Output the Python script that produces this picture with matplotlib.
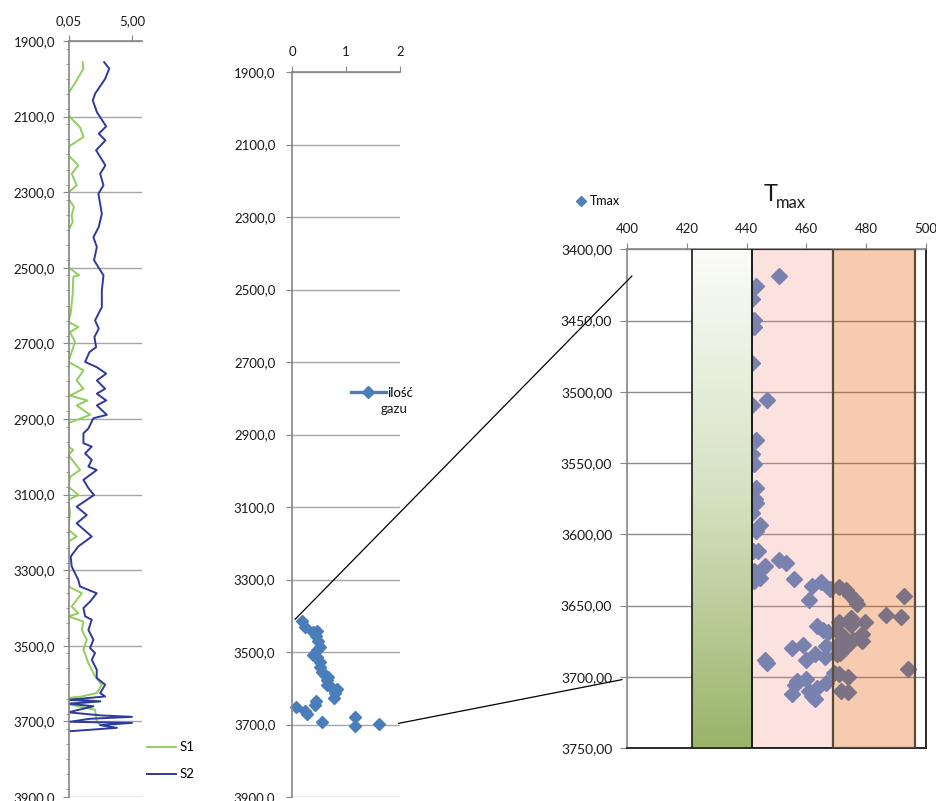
import matplotlib
matplotlib.use('Agg')
import matplotlib.pyplot as plt
import numpy as np
from matplotlib.ticker import FuncFormatter, MultipleLocator
from matplotlib.patches import Rectangle, ConnectionPatch
from matplotlib.lines import Line2D
from matplotlib.colors import LinearSegmentedColormap

plt.rcParams['font.family'] = ['Lato', 'DejaVu Sans']

# ---------------- data ----------------
depth_s2 = [1956, 1973, 2000, 2039, 2057, 2088, 2126, 2145, 2163, 2189,
            2229, 2251, 2282, 2304, 2357, 2392, 2419, 2445, 2480, 2520,
            2560, 2604, 2639, 2661, 2683, 2710, 2723, 2749, 2763, 2780,
            2798, 2820, 2833, 2851, 2864, 2889, 2898, 2925, 2938, 2964,
            2973, 2991, 3008, 3026, 3035, 3061, 3083, 3101, 3132, 3154,
            3176, 3211, 3237, 3264, 3290, 3326, 3343, 3361, 3383, 3400,
            3422, 3431, 3458, 3484, 3506, 3519, 3537, 3563, 3585, 3603,
            3625, 3634, 3643, 3647, 3653, 3660, 3676, 3684, 3688, 3693,
            3701, 3704, 3710, 3717, 3726]
s2 = [2.80, 3.20, 2.88, 2.10, 1.91, 2.23, 2.96, 2.38, 2.90, 2.17,
      2.90, 2.49, 2.75, 2.35, 2.62, 2.38, 1.96, 2.23, 2.01, 2.75,
      2.62, 2.62, 2.09, 2.38, 2.04, 2.17, 1.65, 1.31, 2.23, 2.96,
      2.23, 2.88, 2.23, 2.96, 2.23, 3.01, 1.96, 1.57, 1.18, 1.18,
      1.83, 1.31, 1.83, 1.57, 2.22, 1.18, 1.57, 2.01, 0.65, 1.44,
      0.65, 1.83, 0.78, 0.18, 0.26, 0.78, 0.91, 2.22, 1.70, 1.18,
      1.31, 1.83, 1.57, 1.96, 1.70, 2.09, 1.83, 2.22, 2.22, 2.88,
      2.49, 2.88, 0.00, 2.49, 0.00, 1.96, 0.00, 2.49, 4.98, 1.70,
      0.13, 4.98, 2.49, 3.80, 0.13]

depth_s1 = [1956, 1973, 2004, 2039, 2097, 2128, 2154, 2180, 2202, 2229,
            2251, 2282, 2301, 2317, 2339, 2361, 2379, 2401, 2498, 2520,
            2524, 2569, 2621, 2643, 2657, 2670, 2696, 2749, 2771, 2798,
            2820, 2838, 2851, 2864, 2889, 2911, 2938, 2973, 2982, 2995,
            3035, 3053, 3079, 3101, 3114, 3149, 3193, 3211, 3224, 3343,
            3361, 3396, 3414, 3422, 3436, 3458, 3484, 3510, 3546, 3581,
            3603, 3625, 3634, 3638, 3647, 3655, 3669, 3700, 3709]
s1 = [1.12, 1.18, 0.65, 0.00, 0.00, 0.91, 1.18, 0.00, 0.00, 0.78,
      0.26, 0.65, 0.00, 0.00, 0.44, 0.26, 0.34, 0.00, 0.00, 0.84,
      0.39, 0.34, 0.18, 0.00, 0.78, 0.13, 0.52, 0.00, 1.18, 0.65,
      1.18, 0.13, 1.49, 0.65, 1.70, 0.00, 0.00, 0.00, 0.39, 0.00,
      0.91, 0.13, 0.00, 0.78, 0.00, 0.13, 0.00, 0.65, 0.00, 0.00,
      1.05, 0.26, 0.78, 0.00, 1.18, 1.05, 1.44, 1.18, 1.57, 2.09,
      2.62, 2.22, 1.05, 0.00, 2.49, 0.00, 2.09, 2.22, 2.49]

gas_depth = [3414, 3430, 3441, 3444, 3457, 3470, 3486, 3495, 3509, 3515,
             3527, 3541, 3555, 3564, 3568, 3577, 3591, 3596, 3603, 3614,
             3628, 3634, 3646, 3653, 3662, 3671, 3679, 3692, 3698, 3703]
gas = [0.18, 0.24, 0.47, 0.39, 0.44, 0.49, 0.51, 0.47, 0.38, 0.46,
       0.52, 0.51, 0.55, 0.61, 0.67, 0.64, 0.64, 0.73, 0.83, 0.80,
       0.78, 0.44, 0.43, 0.07, 0.24, 0.28, 1.17, 0.55, 1.62, 1.17]

tmax = [450.9, 443.0, 441.9, 442.4, 442.4, 441.9, 446.8, 441.9, 443.0, 441.9,
        442.4, 443.0, 442.7, 443.0, 441.9, 444.6, 443.0, 443.8, 442.1, 450.9,
        453.1, 446.1, 442.4, 444.6, 442.4, 455.9, 461.9, 464.8, 460.9, 467.8,
        471.0, 473.2, 474.5, 476.2, 477.0, 492.7, 486.8, 491.6, 474.8, 474.8,
        479.8, 471.0, 463.7, 465.6, 467.3, 470.1, 471.8, 478.8, 475.7, 478.8,
        472.5, 470.1, 466.7, 472.9, 471.2, 458.9, 455.0, 462.8, 466.2, 459.8,
        446.2, 446.8, 470.1, 493.9, 469.2, 471.0, 474.0, 460.0, 456.7, 456.1,
        466.7, 463.7, 460.9, 455.0, 462.0, 462.8, 471.6, 474.0]
tmax_depth = [3418.5, 3425.5, 3434.9, 3449.6, 3454.3, 3480.0, 3505.7, 3509.2, 3533.7, 3543.8,
              3550.6, 3567.6, 3575.3, 3578.0, 3585.1, 3593.3, 3598.0, 3612.0, 3611.4, 3617.9,
              3620.2, 3622.1, 3626.1, 3630.7, 3633.0, 3631.2, 3636.1, 3633.8, 3646.0, 3638.4,
              3637.0, 3639.4, 3642.4, 3646.0, 3648.7, 3643.6, 3656.7, 3658.3, 3659.0, 3663.5,
              3661.6, 3661.8, 3664.2, 3667.0, 3668.9, 3668.2, 3670.5, 3669.8, 3674.0, 3675.2,
              3674.0, 3677.5, 3678.7, 3679.8, 3683.3, 3677.5, 3679.8, 3683.8, 3686.4, 3688.0,
              3688.5, 3690.0, 3684.0, 3694.5, 3697.3, 3697.8, 3700.1, 3701.5, 3703.2, 3705.5,
              3704.4, 3707.9, 3710.2, 3712.1, 3713.3, 3715.6, 3710.2, 3711.0]

# maturity zones (Tmax ranges)
zone_immature = (421.5, 441.6)
zone_oil = (441.6, 468.9)
zone_gas = (468.9, 496.3)

s_ticks = [0.05, 5.00]
gas_ticks = [0, 1, 2]
depth_ticks = list(range(1900, 3901, 200))
tmax_ticks = list(range(400, 501, 20))
tmax_depth_ticks = list(range(3400, 3751, 50))

# ---------------- figure ----------------
W, H = 937, 801
fig = plt.figure(figsize=(W / 100, H / 100), dpi=100)


def box(x0, y0, x1, y1):
    return [x0 / W, 1 - y1 / H, (x1 - x0) / W, (y1 - y0) / H]


GRID = '#a6a6a6'
SPINE = '#868686'
TXT = '#1a1a1a'


def comma(fmt):
    return FuncFormatter(lambda v, p: fmt.format(v).replace('.', ','))


def style_axes(ax, ypad):
    for s in ['right', 'bottom']:
        ax.spines[s].set_visible(False)
    for s in ['left', 'top']:
        ax.spines[s].set_color(SPINE)
        ax.spines[s].set_linewidth(1.2)
    ax.xaxis.tick_top()
    ax.tick_params(axis='both', which='both', colors=SPINE, labelcolor=TXT,
                   labelsize=9.5, direction='out')
    ax.tick_params(axis='y', which='major', length=4, pad=ypad)
    ax.tick_params(axis='x', which='major', length=4, pad=6)
    ax.grid(axis='y', which='major', color=GRID, lw=1.0)
    ax.set_axisbelow(True)


# ----- left panel: S1/S2 -----
ax1 = fig.add_axes(box(69, 41, 141.7, 797))
l1, = ax1.plot(s1, depth_s1, color='#8fd05c', lw=1.4, label='S1')
l2, = ax1.plot(s2, depth_s2, color='#2e3a9c', lw=1.4, label='S2')
ax1.set_xlim(0.05, 5.74)
ax1.set_ylim(3900, 1900)
style_axes(ax1, 6)
ax1.set_xticks(s_ticks)
ax1.xaxis.set_major_formatter(comma('{:.2f}'))
ax1.set_yticks(depth_ticks)
ax1.yaxis.set_major_formatter(comma('{:.1f}'))
ax1.yaxis.set_minor_locator(MultipleLocator(40))
ax1.tick_params(axis='y', which='minor', length=2.5)
fig.legend(handles=[l1, l2], loc='upper left', bbox_to_anchor=(142 / W, 1 - 736 / H),
           frameon=False, fontsize=9.5, handlelength=2.2, labelspacing=1.15,
           handletextpad=0.25, borderaxespad=0)

# ----- middle panel: gas -----
ax2 = fig.add_axes(box(292, 72, 400, 797))
ax2.plot(gas, gas_depth, ls='none', marker='D', ms=6.5, color='#4a7ebb',
         mec='#4a7ebb', clip_on=False)
ax2.set_xlim(0, 2)
ax2.set_ylim(3900, 1900)
style_axes(ax2, 8)
ax2.set_xticks(gas_ticks)
ax2.set_yticks(depth_ticks)
ax2.yaxis.set_major_formatter(comma('{:.1f}'))
gas_handle = Line2D([], [], color='#4a7ebb', lw=2.4, marker='D', ms=6)
fig.legend(handles=[gas_handle], labels=['ilość'], loc='center left',
           bbox_to_anchor=(346 / W, 1 - 393 / H), frameon=False, fontsize=9.5,
           handlelength=2.6, handletextpad=0.1, borderaxespad=0)
fig.text(381 / W, 1 - 413 / H, 'gazu', fontsize=9.5, color=TXT, ha='left', va='baseline')

# ----- right panel: Tmax -----
ax3 = fig.add_axes(box(627.5, 249.3, 925.7, 748))
pts, = ax3.plot(tmax, tmax_depth, ls='none', marker='D', ms=8.5, color='#4f7fbe',
                mec='#4f7fbe', zorder=2, label='Tmax')
green = LinearSegmentedColormap.from_list('g', ['#fbfcf9', '#d5e1c1', '#9ab46a'])
ax3.imshow(np.linspace(0, 1, 256).reshape(-1, 1),
           extent=[zone_immature[0], zone_immature[1], 3750, 3400],
           cmap=green, aspect='auto', zorder=3, interpolation='bilinear')
ax3.add_patch(Rectangle((zone_immature[0], 3400), zone_immature[1] - zone_immature[0], 350,
                        fill=False, ec='#1a1a1a', lw=1.2, zorder=4))
ax3.add_patch(Rectangle((zone_oil[0], 3400), zone_oil[1] - zone_oil[0], 350,
                        fc=(0.97, 0.55, 0.50), alpha=0.25, ec='none', zorder=3))
ax3.add_patch(Rectangle((zone_oil[0], 3400), zone_oil[1] - zone_oil[0], 350,
                        fill=False, ec='#1a1a1a', lw=1.2, zorder=4))
ax3.add_patch(Rectangle((zone_gas[0], 3400), zone_gas[1] - zone_gas[0], 350,
                        fc=(0.89, 0.34, 0.0), alpha=0.31, ec='none', zorder=3))
ax3.add_patch(Rectangle((zone_gas[0], 3400), zone_gas[1] - zone_gas[0], 350,
                        fill=False, ec='#5a4a3c', lw=1.6, zorder=4))
ax3.set_xlim(400, 500)
ax3.set_ylim(3750, 3400)
style_axes(ax3, 6)
for s in ['right', 'bottom']:
    ax3.spines[s].set_visible(True)
    ax3.spines[s].set_color('#2a2a2a')
    ax3.spines[s].set_linewidth(1.4)
ax3.set_xticks(tmax_ticks)
ax3.set_yticks(tmax_depth_ticks)
ax3.yaxis.set_major_formatter(comma('{:.2f}'))
ax3.tick_params(axis='y', which='major', length=5)
ax3.grid(axis='y', which='major', color='#8c8c8c', lw=1.0)
ax3.tick_params(axis='y', labelsize=10)
ax3.tick_params(axis='x', labelsize=9.5)

fig.legend(handles=[Line2D([], [], ls='none', marker='D', ms=5, color='#4f7fbe')],
           labels=['Tmax'], loc='center left', bbox_to_anchor=(570 / W, 1 - 201 / H),
           frameon=False, fontsize=9, handlelength=1.0, handletextpad=0.2, borderaxespad=0)
fig.text(764 / W, 1 - 201 / H, 'T', fontsize=17, color=TXT, ha='left', va='baseline')
fig.text(775.5 / W, 1 - 208.3 / H, 'max', fontsize=12, color=TXT, ha='left', va='baseline')

# ----- connector lines -----
for xa, ya, xb, yb in [(0.056, 3410, 401.5, 3418.7), (1.97, 3697, 398.2, 3702)]:
    con = ConnectionPatch(xyA=(xa, ya), coordsA=ax2.transData, xyB=(xb, yb),
                          coordsB=ax3.transData, color='black', lw=0.9)
    fig.add_artist(con)

fig.savefig('out.png', dpi=100)
